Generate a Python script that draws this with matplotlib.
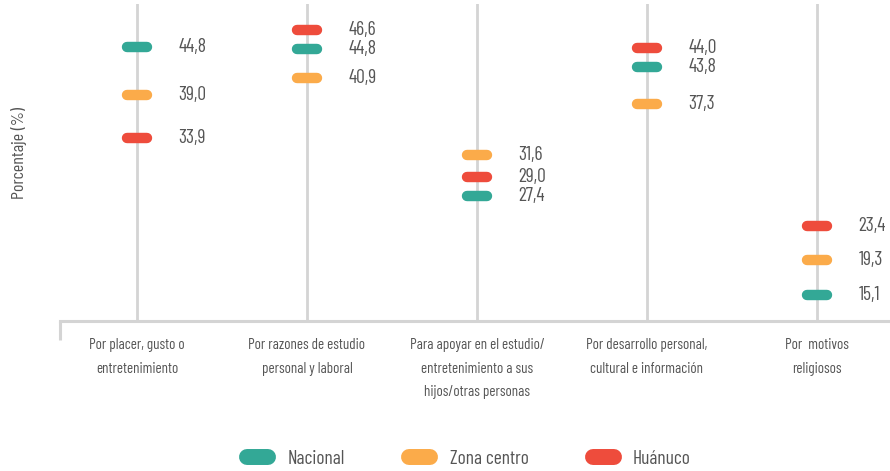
import matplotlib
matplotlib.use("Agg")
import matplotlib.pyplot as plt
from matplotlib.lines import Line2D
from matplotlib.transforms import offset_copy

# datos
categorias = [
    "Por placer, gusto o\nentretenimiento",
    "Por razones de estudio\npersonal y laboral",
    "Para apoyar en el estudio/\nentretenimiento a sus\nhijos/otras personas",
    "Por desarrollo personal,\ncultural e información",
    "Por  motivos\nreligiosos",
]
series = ["Nacional", "Zona centro", "Huánuco"]
nacional = [44.8, 44.8, 27.4, 43.8, 15.1]
zona_centro = [39.0, 40.9, 31.6, 37.3, 19.3]
huanuco = [33.9, 46.6, 29.0, 44.0, 23.4]

colores = ["#33a896", "#fbab4a", "#ee4c3c"]
GRIS_TXT = "#555555"
GRIS_LIN = "#d4d4d4"

plt.rcParams["font.family"] = ["Barlow Condensed", "DejaVu Sans"]

DPI = 100
fig = plt.figure(figsize=(8.9, 4.71), dpi=DPI)
W, H = 890, 471
ax = fig.add_axes([60 / W, 1 - 321 / H, 830 / W, 317 / H])
ax.set_xlim(-0.453, 4.43)
ax.set_ylim(12.0, 49.9)

for i in range(len(categorias)):
    ax.axvline(i, color=GRIS_LIN, lw=2, zorder=1)

valores = [nacional, zona_centro, huanuco]

# separar marcas muy juntas (en pixeles) para que no se tapen
MIN_GAP = 19
for i in range(len(categorias)):
    pts = [(valores[s][i], s) for s in range(len(series))]
    pts.sort(key=lambda t: -t[0])
    ys = [ax.transData.transform((i, v))[1] for v, _ in pts]
    adj = list(ys)
    for k in range(1, len(adj)):
        if adj[k - 1] - adj[k] < MIN_GAP:
            adj[k] = adj[k - 1] - MIN_GAP
    shifts = [a - y for a, y in zip(adj, ys)]
    media = sum(shifts) / len(shifts)
    shifts = [s - media for s in shifts]
    for (v, s), dy in zip(pts, shifts):
        dy_pt = dy * 72 / DPI
        tr = offset_copy(ax.transData, fig=fig, x=0, y=dy_pt, units="points")
        ax.plot([i - 0.059, i + 0.059], [v, v], color=colores[s], lw=7.5,
                solid_capstyle="round", transform=tr, zorder=3)
        tr_txt = offset_copy(ax.transData, fig=fig, x=30, y=dy_pt, units="points")
        ax.text(i, v, f"{v:.1f}".replace(".", ","), transform=tr_txt,
                ha="left", va="center", fontsize=14, color=GRIS_TXT)

for side in ["top", "right", "left"]:
    ax.spines[side].set_visible(False)
ax.spines["bottom"].set_color(GRIS_LIN)
ax.spines["bottom"].set_linewidth(2.2)
ax.plot([0, 0], [0, -0.06], transform=ax.transAxes, color=GRIS_LIN, lw=2.2,
        clip_on=False, solid_capstyle="butt")

ax.set_yticks([])
ax.set_xticks(range(len(categorias)))
ax.set_xticklabels(categorias, fontsize=10.8, color=GRIS_TXT, linespacing=1.9)
ax.tick_params(axis="x", length=0, pad=12)
ax.set_ylabel("Porcentaje (%)", fontsize=13, color=GRIS_TXT)
ax.yaxis.set_label_coords(-0.04, 0.53)

handles = [Line2D([], [], color=c, lw=11.5, solid_capstyle="round") for c in colores]
fig.legend(handles, series, loc="center", bbox_to_anchor=(0.527, 0.026), ncol=3,
           frameon=False, fontsize=14, handlelength=1.08, handletextpad=1.0,
           columnspacing=3.3, labelcolor=GRIS_TXT)

fig.savefig("out.png", dpi=DPI)
